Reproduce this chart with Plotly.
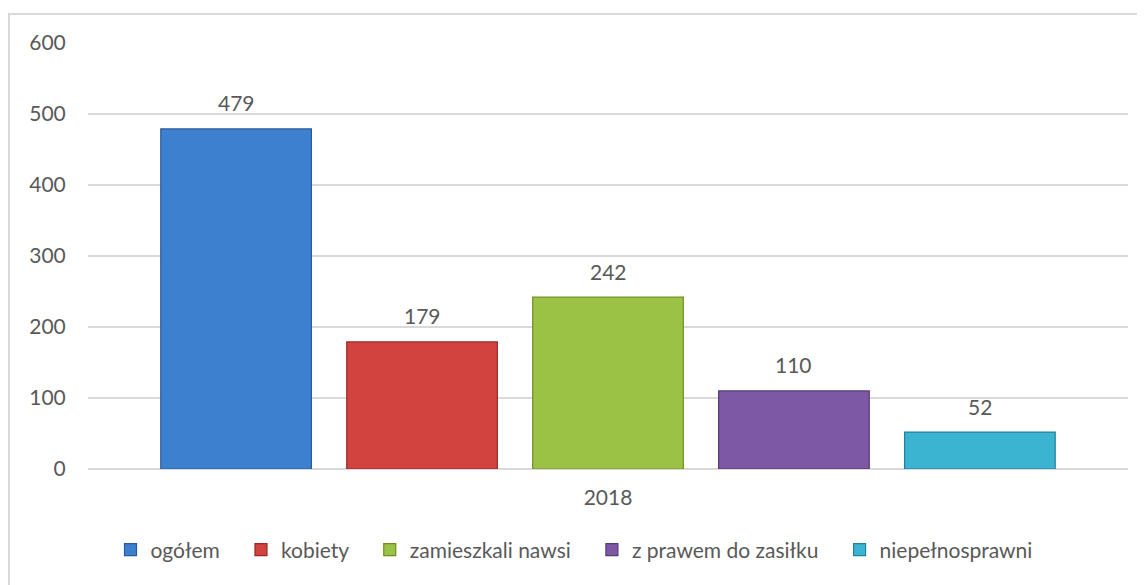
import plotly.graph_objects as go

# data
years = ["2018"]
series = ["ogółem", "kobiety", "zamieszkali nawsi", "z prawem do zasiłku", "niepełnosprawni"]
values = [479, 179, 242, 110, 52]
colors = ["#3e80d0", "#d2423e", "#9bc245", "#7d58a4", "#3ab4d0"]
edges = ["#2a5a99", "#9a2a27", "#6e8f25", "#573a78", "#24819a"]

FONT = "Lato"
GREY = "#595959"
PAD = "\u00a0\u00a0\u00a0"  # small spacing after each legend entry

PLOT_W = 1040
BARGAP = 0.106
slot = PLOT_W * (1 - BARGAP) / len(series)

fig = go.Figure()
for i, (name, v, c, e) in enumerate(zip(series, values, colors, edges)):
    fig.add_trace(go.Bar(
        x=years, y=[v], name=name + PAD,
        marker=dict(color=c, line=dict(color=e, width=1.2)),
    ))
    # value label above each bar (x = index of the "2018" category)
    fig.add_annotation(
        x=0, y=v, text=str(v), showarrow=False,
        xshift=(i - (len(series) - 1) / 2) * slot, yshift=26, yanchor="middle",
        font=dict(family=FONT, size=21, color=GREY),
    )

# page body adds an 8px offset, so the figure is drawn 8px smaller
fig.update_layout(
    width=1137, height=577,
    margin=dict(l=80, r=17, t=35, b=116),
    paper_bgcolor="white", plot_bgcolor="white",
    barmode="group", bargap=BARGAP, bargroupgap=0.19,
    font=dict(family=FONT, size=21, color=GREY),
    showlegend=True,
    legend=dict(orientation="h", x=0.475, xanchor="center", y=-0.19, yanchor="middle",
                font=dict(family=FONT, size=21, color=GREY),
                itemwidth=30, traceorder="normal"),
    xaxis=dict(type="category", range=[-0.5, 0.5], showgrid=False, showline=False,
               ticks="outside", ticklen=10,
               tickcolor="rgba(0,0,0,0)", tickfont=dict(size=21, color=GREY)),
    yaxis=dict(range=[0, 600], dtick=100, showgrid=True, gridcolor="#d9d9d9", gridwidth=1.5,
               zeroline=True, zerolinecolor="#d9d9d9", zerolinewidth=1.5,
               ticks="outside", ticklen=17, tickcolor="rgba(0,0,0,0)",
               tickfont=dict(size=21, color=GREY)),
    shapes=[dict(type="rect", xref="paper", yref="paper",
                 x0=-79 / PLOT_W, x1=1 + 40 / PLOT_W,
                 y0=-150 / 426, y1=1 + 29 / 426,
                 line=dict(color="#d9d9d9", width=2), fillcolor="rgba(0,0,0,0)", layer="below")],
)

fig.write_html("out.html")
